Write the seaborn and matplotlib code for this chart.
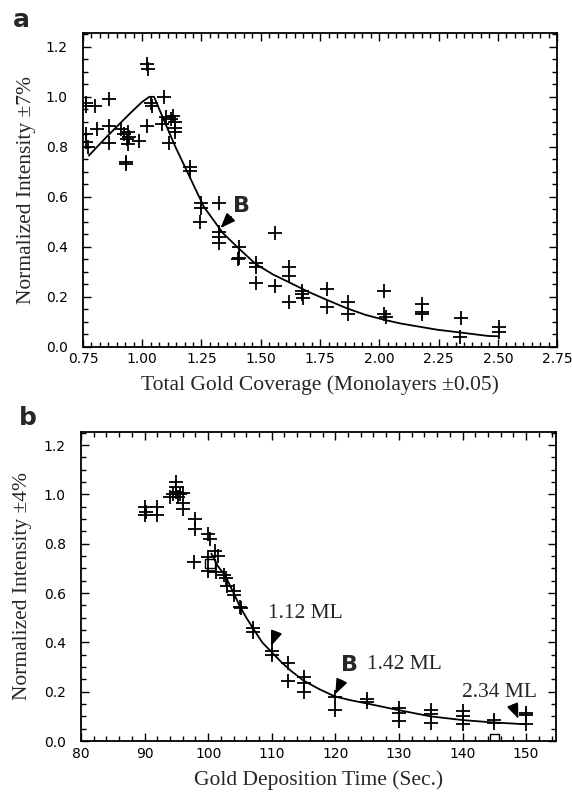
import numpy as np
import pandas as pd
import matplotlib
matplotlib.use("Agg")
import matplotlib.pyplot as plt
from matplotlib.ticker import MultipleLocator
import seaborn as sns

# ---------------- Panel a data ----------------
a_cov = [0.765, 0.765, 0.765, 0.765, 0.77, 0.80, 0.81,
         0.86, 0.86, 0.86, 0.91, 0.925, 0.93, 0.93, 0.935, 0.94, 0.94, 0.945,
         0.985, 1.02, 1.025, 1.02, 1.035, 1.04,
         1.09, 1.085, 1.10, 1.12, 1.13, 1.14, 1.14, 1.14, 1.115,
         1.20, 1.20, 1.25, 1.25, 1.245, 1.325, 1.325, 1.325, 1.325,
         1.41, 1.41, 1.405, 1.48, 1.48, 1.48, 1.56, 1.56,
         1.62, 1.62, 1.62, 1.675, 1.675, 1.68, 1.78, 1.78,
         1.87, 1.87, 2.02, 2.02, 2.03, 2.18, 2.18, 2.18,
         2.345, 2.34, 2.505, 2.505]
a_int = [0.975, 0.965, 0.85, 0.82, 0.80, 0.965, 0.87,
         0.99, 0.885, 0.815, 0.87, 0.85, 0.74, 0.73, 0.83, 0.86, 0.81, 0.84,
         0.825, 1.13, 1.11, 0.885, 0.975, 0.965,
         1.00, 0.89, 0.92, 0.91, 0.925, 0.90, 0.875, 0.86, 0.815,
         0.72, 0.705, 0.575, 0.555, 0.50, 0.575, 0.46, 0.44, 0.415,
         0.40, 0.355, 0.35, 0.335, 0.32, 0.255, 0.455, 0.245,
         0.32, 0.285, 0.18, 0.225, 0.21, 0.195, 0.23, 0.16,
         0.18, 0.13, 0.225, 0.13, 0.12, 0.17, 0.14, 0.13,
         0.115, 0.04, 0.08, 0.06]
a_fit_x = [0.775, 0.85, 0.95, 1.00, 1.03, 1.05, 1.09, 1.14, 1.20, 1.26,
           1.34, 1.40, 1.476, 1.55, 1.63, 1.70, 1.78, 1.86, 1.94, 2.02,
           2.09, 2.17, 2.245, 2.35, 2.46, 2.50]
a_fit_y = [0.765, 0.84, 0.935, 0.98, 1.0, 1.0, 0.91, 0.80, 0.68, 0.56,
           0.455, 0.40, 0.333, 0.29, 0.253, 0.22, 0.187, 0.155, 0.128, 0.108,
           0.093, 0.08, 0.068, 0.056, 0.043, 0.042]

# ---------------- Panel b data ----------------
b_time = [90, 90, 90.2, 92, 92, 94, 94.5, 95, 95, 95, 95.2, 95.5,
          96, 96, 96, 98, 98, 97.7, 100, 100.3, 100, 100, 101, 101.6, 101.2,
          102.5, 102.8, 103, 104, 104, 105, 105.2, 107, 107, 110, 110,
          112.5, 112.5, 115, 115, 115, 120, 120, 125, 125,
          130, 130, 130, 135, 135, 135, 140, 140, 140, 145, 145,
          150, 150, 150]
b_int = [0.95, 0.915, 0.93, 0.95, 0.915, 0.99, 1.0, 1.05, 1.03, 1.01, 0.99, 1.0,
         1.005, 0.965, 0.94, 0.90, 0.86, 0.725, 0.84, 0.82, 0.745, 0.69, 0.77, 0.75, 0.685,
         0.675, 0.66, 0.63, 0.61, 0.59, 0.545, 0.54, 0.46, 0.44, 0.365, 0.35,
         0.315, 0.245, 0.26, 0.235, 0.20, 0.18, 0.125, 0.17, 0.16,
         0.135, 0.115, 0.08, 0.125, 0.11, 0.075, 0.12, 0.10, 0.07, 0.085, 0.075,
         0.115, 0.105, 0.07]
b_sq_time = [100.3, 145]
b_sq_int = [0.72, 0.01]
b_fit_x = [100.5, 101.5, 102.7, 104, 105, 106, 107.3, 108.5, 110, 111.5,
           113, 115, 117.5, 120, 122.5, 125, 130, 135, 140, 145, 150]
b_fit_y = [0.76, 0.71, 0.67, 0.60, 0.545, 0.50, 0.447, 0.40, 0.36, 0.32,
           0.285, 0.245, 0.21, 0.18, 0.165, 0.152, 0.125, 0.10, 0.085, 0.075, 0.068]

a_xticks = [0.75, 1.00, 1.25, 1.50, 1.75, 2.00, 2.25, 2.50, 2.75]
b_xticks = [80, 90, 100, 110, 120, 130, 140, 150]
yticks = [0.0, 0.2, 0.4, 0.6, 0.8, 1.0, 1.2]

sns.set_style("ticks")
plt.rcParams['font.family'] = ['DejaVu Sans']

fig = plt.figure(figsize=(5.72, 7.94), dpi=100)
ax1 = fig.add_axes([0.145, 0.5633, 0.829, 0.3947])
ax2 = fig.add_axes([0.1416, 0.0667, 0.8304, 0.3896])

serif = ['Liberation Serif', 'DejaVu Serif']
LBL = 15.5

def style(ax, xt, xfmt):
    ax.set_yticks(yticks)
    ax.set_yticklabels([f"{v:.1f}" for v in yticks])
    ax.set_xticks(xt)
    ax.set_xticklabels([xfmt(v) for v in xt])
    ax.yaxis.set_minor_locator(MultipleLocator(0.05))
    ax.tick_params(which='both', direction='in', top=True, right=True,
                   width=1.0, colors='black', labelsize=10)
    ax.tick_params(axis='y', which='major', pad=11)
    ax.tick_params(axis='x', which='major', pad=4)
    ax.tick_params(which='major', length=6)
    ax.tick_params(which='minor', length=3.5)
    for s in ax.spines.values():
        s.set_linewidth(1.3)
        s.set_color('black')

arr = dict(arrowstyle='-|>,head_length=0.9,head_width=0.35', color='black', lw=1.2,
           shrinkA=0, shrinkB=0)

# Panel a
dfa = pd.DataFrame({'x': a_cov, 'y': a_int})
sns.scatterplot(data=dfa, x='x', y='y', marker='+', s=90, color='black',
                linewidth=1.3, ax=ax1, legend=False)
sns.lineplot(x=a_fit_x, y=a_fit_y, sort=False, color='black', linewidth=1.3,
             ax=ax1, estimator=None)
ax1.set_xlim(0.75, 2.75)
ax1.set_ylim(0, 1.254)
style(ax1, a_xticks, lambda v: f"{v:.2f}")
ax1.xaxis.set_minor_locator(MultipleLocator(0.25 / 7))
ax1.set_xlabel("Total Gold Coverage (Monolayers \u00b10.05)", family=serif, fontsize=LBL)
ax1.set_ylabel("Normalized Intensity \u00b17%", family=serif, fontsize=LBL)
ax1.xaxis.set_label_coords(0.5, -0.092)
ax1.yaxis.set_label_coords(-0.10, 0.5)
ax1.annotate("", xy=(1.33, 0.475), xytext=(1.375, 0.52), arrowprops=arr)
ax1.text(1.42, 0.565, "B", fontsize=16, fontweight='bold', ha='center', va='center')
fig.text(0.038, 0.975, "a", fontsize=18, fontweight='bold', ha='center', va='center')

# Panel b
dfb = pd.DataFrame({'x': b_time, 'y': b_int})
sns.scatterplot(data=dfb, x='x', y='y', marker='+', s=90, color='black',
                linewidth=1.3, ax=ax2, legend=False)
sns.scatterplot(x=b_sq_time, y=b_sq_int, marker='s', s=45, facecolor='none',
                edgecolor='black', linewidth=1.0, ax=ax2, legend=False)
sns.lineplot(x=b_fit_x, y=b_fit_y, sort=False, color='black', linewidth=1.3,
             ax=ax2, estimator=None)
ax2.set_xlim(80, 154.7)
ax2.set_ylim(0, 1.254)
style(ax2, b_xticks, lambda v: f"{v:d}")
ax2.xaxis.set_minor_locator(MultipleLocator(2))
ax2.set_xlabel("Gold Deposition Time (Sec.)", family=serif, fontsize=LBL)
ax2.set_ylabel("Normalized Intensity \u00b14%", family=serif, fontsize=LBL)
ax2.xaxis.set_label_coords(0.5, -0.094)
ax2.yaxis.set_label_coords(-0.103, 0.5)

ax2.annotate("", xy=(109.9, 0.385), xytext=(110.7, 0.44), arrowprops=arr)
ax2.text(115.3, 0.518, "1.12 ML", family=serif, fontsize=LBL, ha='center', va='center')
ax2.annotate("", xy=(120.0, 0.19), xytext=(121.0, 0.245), arrowprops=arr)
ax2.text(122.2, 0.31, "B", fontsize=16, fontweight='bold', ha='center', va='center')
ax2.text(130.9, 0.31, "1.42 ML", family=serif, fontsize=LBL, ha='center', va='center')
ax2.annotate("", xy=(148.8, 0.09), xytext=(147.9, 0.145), arrowprops=arr)
ax2.text(145.8, 0.197, "2.34 ML", family=serif, fontsize=LBL, ha='center', va='center')
fig.text(0.048, 0.474, "b", fontsize=18, fontweight='bold', ha='center', va='center')

fig.savefig("out.png", dpi=100)
